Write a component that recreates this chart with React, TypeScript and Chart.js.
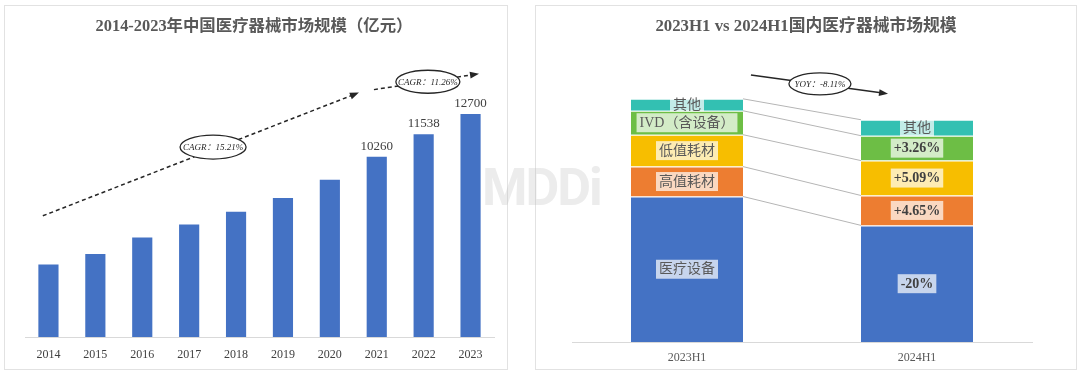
import React, { useEffect, useRef } from "react";
import { Chart, registerables } from "chart.js";

Chart.register(...registerables);

// ---------------- Left chart data ----------------
const years = ["2014", "2015", "2016", "2017", "2018", "2019", "2020", "2021", "2022", "2023"];
const marketSize = [4130, 4730, 5660, 6400, 7130, 7920, 8950, 10260, 11538, 12700];
const labeledYears = ["2021", "2022", "2023"];
const leftTitle = "2014-2023年中国医疗器械市场规模（亿元）";
const cagrLabels = ["CAGR：15.21%", "CAGR：11.26%"];

// ---------------- Right chart data ----------------
const periods = ["2023H1", "2024H1"];
const segmentNames = ["医疗设备", "高值耗材", "低值耗材", "IVD（含设备）", "其他"];
const deviceValues = [146, 117];
const highValueConsumables = [30, 30];
const lowValueConsumables = [32, 35];
const ivdValues = [24, 25];
const otherValues = [12, 16];
const changeLabels = ["-20%", "+4.65%", "+5.09%", "+3.26%", "其他"];
const rightTitle = "2023H1 vs 2024H1国内医疗器械市场规模";
const yoyLabel = "YOY：-8.11%";

// ---------------- styles / annotation anchors ----------------
const BLUE = "#4472C4";
const segmentColors = ["#4472C4", "#ED7D31", "#F7BE00", "#6DBE45", "#33C0B2"];
const SERIF = '"Liberation Serif", "Noto Sans CJK SC", serif';
// anchors in data space: [category index, value]
const ANN_LEFT = {
  line1: [[-0.12, 6900], [6.62, 13915]],
  ell1: [3.51, 10817],
  line2: [[6.94, 14085], [9.18, 14986]],
  ell2: [8.09, 14535],
};
const ANN_RIGHT = {
  line: [[0.278, 268], [0.874, 249]],
  ell: [0.578, 259],
};

function arrowLine(ctx: CanvasRenderingContext2D, x1: number, y1: number, x2: number, y2: number, dashed: boolean) {
  const ang = Math.atan2(y2 - y1, x2 - x1);
  const hl = 9;
  ctx.save();
  ctx.strokeStyle = "#262626";
  ctx.fillStyle = "#262626";
  ctx.lineWidth = 1.5;
  ctx.setLineDash(dashed ? [4, 3] : []);
  ctx.beginPath();
  ctx.moveTo(x1, y1);
  ctx.lineTo(x2 - Math.cos(ang) * hl * 0.8, y2 - Math.sin(ang) * hl * 0.8);
  ctx.stroke();
  ctx.setLineDash([]);
  ctx.beginPath();
  ctx.moveTo(x2, y2);
  ctx.lineTo(x2 - hl * Math.cos(ang) + 3.5 * Math.sin(ang), y2 - hl * Math.sin(ang) - 3.5 * Math.cos(ang));
  ctx.lineTo(x2 - hl * Math.cos(ang) - 3.5 * Math.sin(ang), y2 - hl * Math.sin(ang) + 3.5 * Math.cos(ang));
  ctx.closePath();
  ctx.fill();
  ctx.restore();
}

function ellipseLabel(ctx: CanvasRenderingContext2D, cx: number, cy: number, rx: number, ry: number, text: string) {
  ctx.save();
  ctx.beginPath();
  ctx.ellipse(cx, cy, rx, ry, 0, 0, Math.PI * 2);
  ctx.fillStyle = "#ffffff";
  ctx.fill();
  ctx.strokeStyle = "#262626";
  ctx.lineWidth = 1.3;
  ctx.stroke();
  ctx.fillStyle = "#262626";
  ctx.font = "italic 9px " + SERIF;
  ctx.textAlign = "center";
  ctx.textBaseline = "middle";
  ctx.fillText(text, cx, cy + 0.5);
  ctx.restore();
}

const leftDecor = {
  id: "leftDecor",
  afterDraw(chart: any) {
    const { ctx } = chart;
    const xs = chart.scales.x;
    const ys = chart.scales.y;
    const px = (p: number[]) => [xs.getPixelForValue(p[0]), ys.getPixelForValue(p[1])];
    ctx.save();
    ctx.font = "bold 16.4px " + SERIF;
    ctx.fillStyle = "#595959";
    ctx.textAlign = "center";
    ctx.textBaseline = "middle";
    ctx.fillText(leftTitle, chart.width / 2 - 2, 22);

    const meta = chart.getDatasetMeta(0);
    ctx.font = "13px " + SERIF;
    ctx.fillStyle = "#404040";
    ctx.textBaseline = "alphabetic";
    years.forEach((yr, i) => {
      if (labeledYears.includes(yr)) {
        const el = meta.data[i];
        ctx.fillText(String(marketSize[i]), el.x, el.y - 7);
      }
    });
    ctx.restore();

    const [a1, b1] = ANN_LEFT.line1.map(px);
    arrowLine(ctx, a1[0], a1[1], b1[0], b1[1], true);
    const e1 = px(ANN_LEFT.ell1);
    ellipseLabel(ctx, e1[0], e1[1], 33, 12, cagrLabels[0]);
    const [a2, b2] = ANN_LEFT.line2.map(px);
    arrowLine(ctx, a2[0], a2[1], b2[0], b2[1], true);
    const e2 = px(ANN_LEFT.ell2);
    ellipseLabel(ctx, e2[0], e2[1], 32, 11.5, cagrLabels[1]);
  },
};

function labelBox(ctx: CanvasRenderingContext2D, text: string, cx: number, cy: number, font: string, color: string, h: number) {
  ctx.font = font;
  const w = ctx.measureText(text).width + 6;
  ctx.fillStyle = "rgba(255,255,255,0.7)";
  ctx.fillRect(cx - w / 2, cy - h / 2, w, h);
  ctx.fillStyle = color;
  ctx.textAlign = "center";
  ctx.textBaseline = "middle";
  ctx.fillText(text, cx, cy + 0.5);
}

const rightDecor = {
  id: "rightDecor",
  afterDatasetsDraw(chart: any) {
    const { ctx } = chart;
    ctx.save();
    ctx.strokeStyle = "#B5B5B5";
    ctx.lineWidth = 1;
    segmentNames.forEach((_, k) => {
      const meta = chart.getDatasetMeta(k);
      const a = meta.data[0];
      const b = meta.data[1];
      ctx.beginPath();
      ctx.moveTo(a.x + a.width / 2, a.y);
      ctx.lineTo(b.x - b.width / 2, b.y);
      ctx.stroke();
    });
    segmentNames.forEach((name, k) => {
      const meta = chart.getDatasetMeta(k);
      const a = meta.data[0];
      const b = meta.data[1];
      const hA = Math.min(19, Math.abs(a.base - a.y) + 1);
      labelBox(ctx, name, a.x, (a.y + a.base) / 2, "14px " + SERIF, "#595959", hA);
      const hB = Math.min(19, Math.abs(b.base - b.y) + 1);
      const isPct = /%/.test(changeLabels[k]);
      labelBox(ctx, changeLabels[k], b.x, (b.y + b.base) / 2, (isPct ? "bold 14px " : "14px ") + SERIF, isPct ? "#404040" : "#595959", hB);
    });
    ctx.restore();
  },
  afterDraw(chart: any) {
    const { ctx } = chart;
    const xs = chart.scales.x;
    const ys = chart.scales.y;
    const px = (p: number[]) => [xs.getPixelForValue(p[0]), ys.getPixelForValue(p[1])];
    ctx.save();
    ctx.font = "bold 16.8px " + SERIF;
    ctx.fillStyle = "#595959";
    ctx.textAlign = "center";
    ctx.textBaseline = "middle";
    ctx.fillText(rightTitle, chart.width / 2, 22);
    ctx.restore();
    const [a, b] = ANN_RIGHT.line.map(px);
    arrowLine(ctx, a[0], a[1], b[0], b[1], false);
    const e = px(ANN_RIGHT.ell);
    ellipseLabel(ctx, e[0], e[1], 31, 11, yoyLabel);
  },
};

function LeftChart() {
  const ref = useRef<HTMLCanvasElement>(null);
  useEffect(() => {
    const chart = new Chart(ref.current as HTMLCanvasElement, {
      type: "bar",
      data: {
        labels: years,
        datasets: [{ data: marketSize, backgroundColor: BLUE, barPercentage: 0.43, categoryPercentage: 1 }],
      },
      options: {
        animation: false,
        responsive: false,
        layout: { padding: { left: 21, right: 14, top: 51, bottom: 3.6 } },
        plugins: { legend: { display: false }, tooltip: { enabled: false }, title: { display: false } },
        scales: {
          x: {
            grid: { display: false, drawTicks: false },
            border: { display: true, color: "#D9D9D9" },
            ticks: { color: "#404040", font: { family: SERIF, size: 12 }, padding: 11, maxRotation: 0, autoSkip: false },
          },
          y: { display: false, min: 0, max: 16000 },
        },
      },
      plugins: [leftDecor],
    } as any);
    return () => chart.destroy();
  }, []);
  return <canvas ref={ref} width={504} height={372} style={{ display: "block" }} />;
}

function RightChart() {
  const ref = useRef<HTMLCanvasElement>(null);
  useEffect(() => {
    const series = [deviceValues, highValueConsumables, lowValueConsumables, ivdValues, otherValues];
    const chart = new Chart(ref.current as HTMLCanvasElement, {
      type: "bar",
      data: {
        labels: periods,
        datasets: segmentNames.map((name, k) => ({
          label: name,
          data: series[k],
          backgroundColor: segmentColors[k],
          borderColor: "rgba(255,255,255,0.55)",
          borderWidth: { top: 1, right: 0, bottom: 0, left: 0 },
          barPercentage: 0.487,
          categoryPercentage: 1,
          stack: "s",
        })),
      },
      options: {
        animation: false,
        responsive: false,
        layout: { padding: { left: 37, right: 45, top: 38, bottom: 2.6 } },
        plugins: { legend: { display: false }, tooltip: { enabled: false }, title: { display: false } },
        scales: {
          x: {
            stacked: true,
            grid: { display: false, drawTicks: false },
            border: { display: true, color: "#D9D9D9" },
            ticks: { color: "#595959", font: { family: SERIF, size: 12 }, padding: 9, maxRotation: 0 },
          },
          y: { stacked: true, display: false, min: 0, max: 300 },
        },
      },
      plugins: [rightDecor],
    } as any);
    return () => chart.destroy();
  }, []);
  return <canvas ref={ref} width={542} height={372} style={{ display: "block" }} />;
}

export default function App() {
  const panel = (left: number, width: number): React.CSSProperties => ({
    position: "absolute",
    left,
    top: 5,
    width,
    height: 365,
  });
  return (
    <div style={{ position: "fixed", left: 0, top: 0, width: 1080, height: 372, background: "#ffffff", overflow: "hidden" }}>
      <div style={panel(4, 504)}>
        <LeftChart />
      </div>
      <div style={panel(535, 542)}>
        <RightChart />
      </div>
      <div style={{ ...panel(4, 504), border: "1px solid #E2E2E2", boxSizing: "border-box", pointerEvents: "none" }} />
      <div style={{ ...panel(535, 542), border: "1px solid #E2E2E2", boxSizing: "border-box", pointerEvents: "none" }} />
      <div
        style={{
          position: "absolute",
          left: 482,
          top: 162,
          font: "700 52px Roboto, sans-serif",
          lineHeight: 1,
          letterSpacing: -2,
          color: "rgba(185,185,185,0.28)",
          pointerEvents: "none",
          whiteSpace: "nowrap",
        }}
      >
        MDDi
      </div>
    </div>
  );
}
